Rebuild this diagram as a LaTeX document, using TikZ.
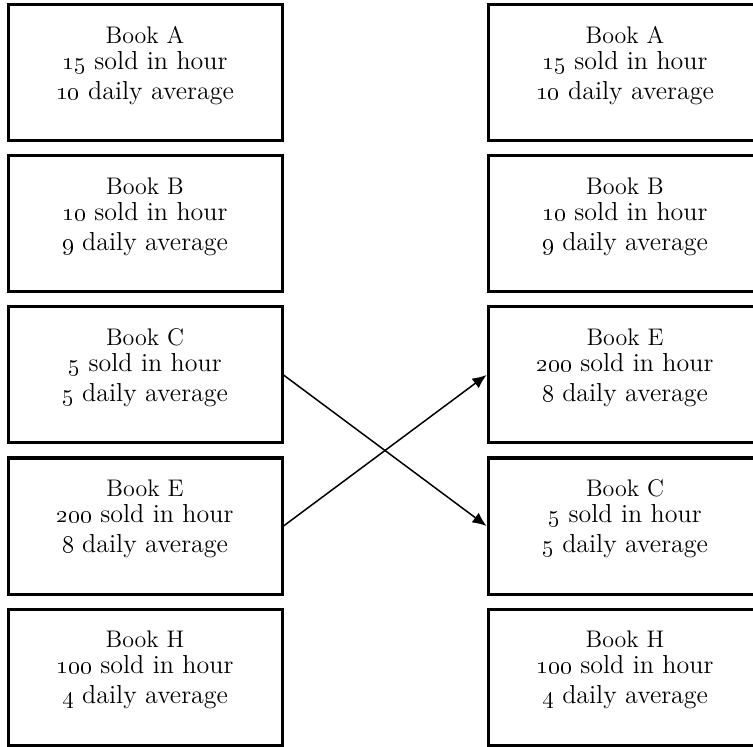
\documentclass[tikz,border=0pt]{standalone}
\usepackage{tikz}
\usetikzlibrary{arrows.meta, positioning}
\tikzstyle{block}=[draw,line width=1.5pt,fill=white,rectangle,align=center,minimum width=137pt,minimum height=68pt,inner sep=0pt]
\tikzstyle{every node}=[font=\fontsize{13}{12}\selectfont]
\newcommand{\sales}[3]{{\fontsize{12}{12}\selectfont Book #1}\\[1pt]\oldstylenums{#2} sold in hour\\[3pt]\oldstylenums{#3} daily average\rule[-10pt]{0pt}{0pt}}

\begin{document}
\begin{tikzpicture}[node distance=75.5pt,>={Latex[length=7pt,width=6pt]}]
    \useasboundingbox (0,0) rectangle (376.5pt,-373.5pt);
    \node[block] (lA) at (72.5pt,-36.5pt) {\sales{A}{15}{10}};
    \node[block, below of=lA] (lB) {\sales{B}{10}{9}};
    \node[block, below of=lB] (lC) {\sales{C}{5}{5}};
    \node[block, below of=lC] (lE) {\sales{E}{200}{8}};
    \node[block, below of=lE] (lH) {\sales{H}{100}{4}};
    \node[block, right of=lA, node distance=240pt] (rA) {\sales{A}{15}{10}};
    \node[block, below of=rA] (rB) {\sales{B}{10}{9}};
    \node[block, below of=rB] (rE) {\sales{E}{200}{8}};
    \node[block, below of=rE] (rC) {\sales{C}{5}{5}};
    \node[block, below of=rC] (rH) {\sales{H}{100}{4}};
    \draw[->,line width=0.75pt] (lC.east) -- (rC.west);
    \draw[->,line width=0.75pt] (lE.east) -- (rE.west);
\end{tikzpicture}
\end{document}
